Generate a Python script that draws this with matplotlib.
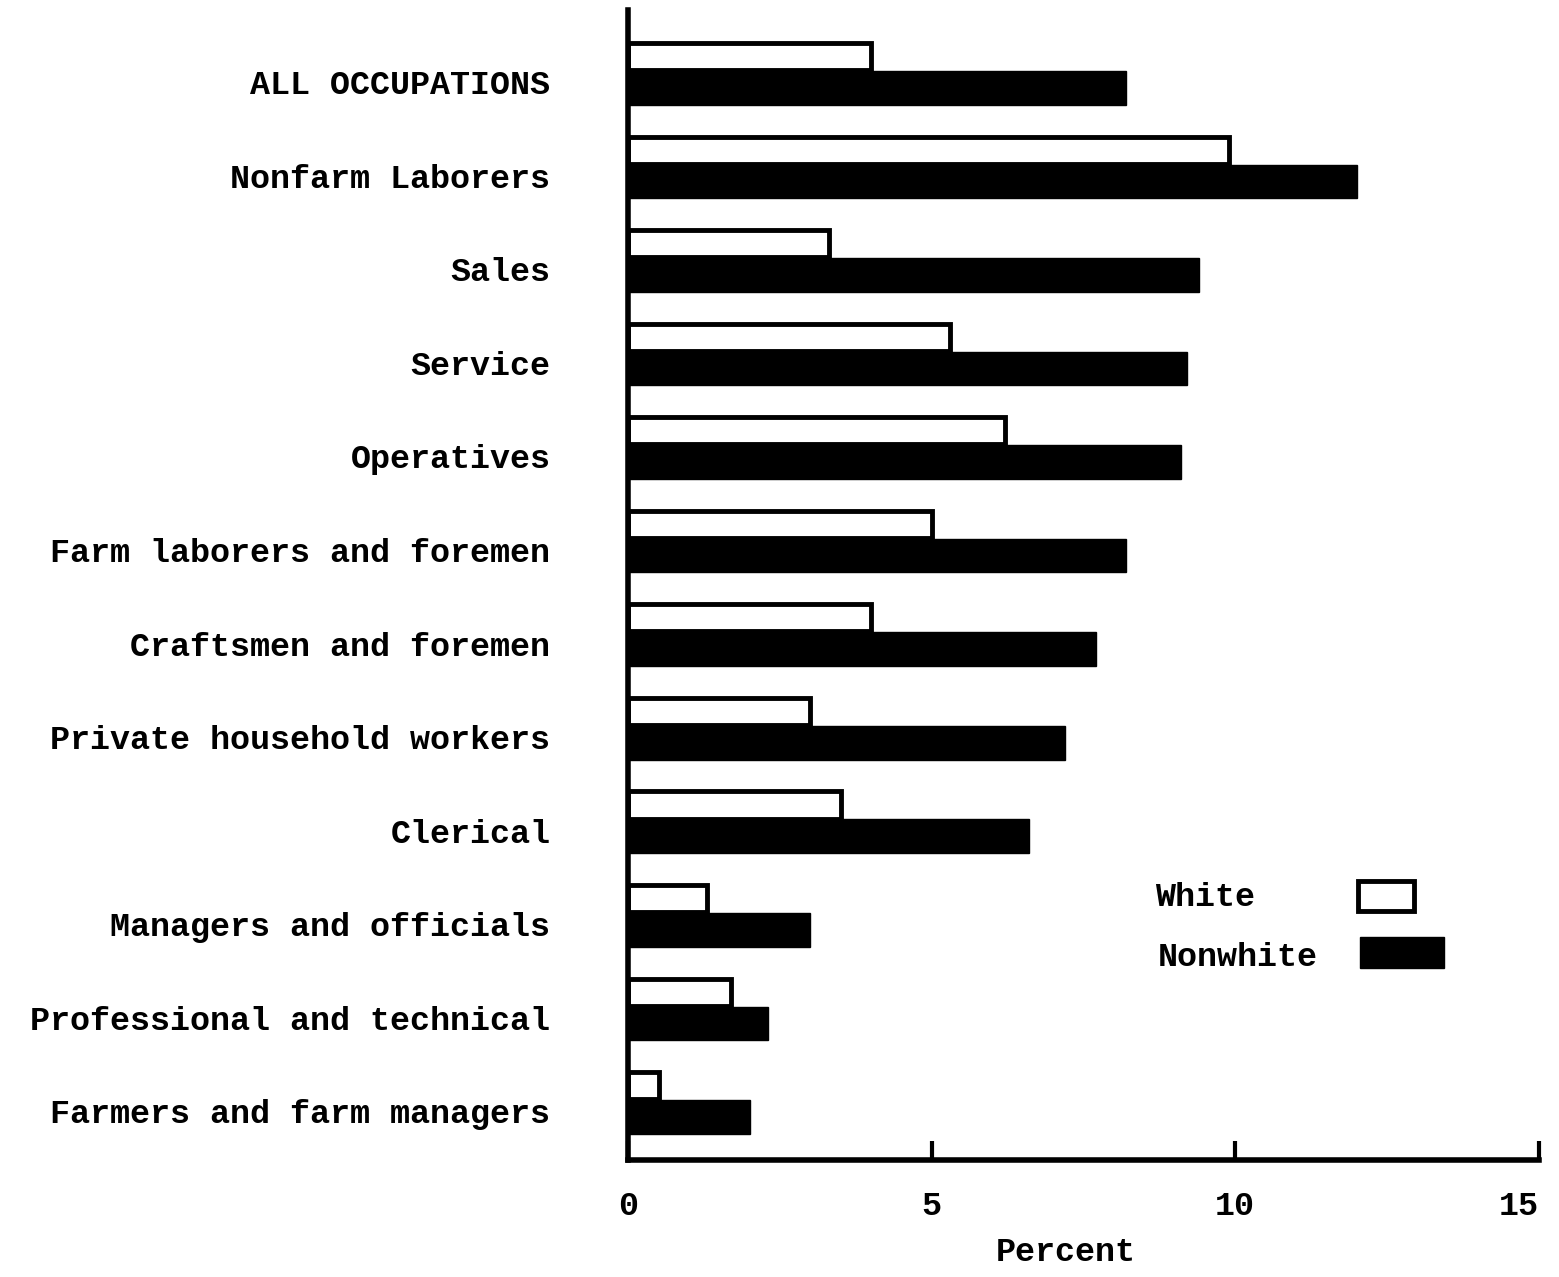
import numpy as np
import matplotlib
matplotlib.use("Agg")
import matplotlib.pyplot as plt
from matplotlib.patches import Rectangle

# unemployment rate by occupation, percent
occupations = ["ALL OCCUPATIONS", "Nonfarm Laborers", "Sales", "Service",
               "Operatives", "Farm laborers and foremen", "Craftsmen and foremen",
               "Private household workers", "Clerical", "Managers and officials",
               "Professional and technical", "Farmers and farm managers"]
white = [4.0, 9.9, 3.3, 5.3, 6.2, 5.0, 4.0, 3.0, 3.5, 1.3, 1.7, 0.5]
nonwhite = [8.2, 12.0, 9.4, 9.2, 9.1, 8.2, 7.7, 7.2, 6.6, 3.0, 2.3, 2.0]
xticks = [0, 5, 10, 15]
series_names = ["White", "Nonwhite"]

plt.rcParams['font.family'] = ['Liberation Mono', 'DejaVu Sans Mono']
plt.rcParams['font.weight'] = 'bold'

fig = plt.figure(figsize=(15.59, 12.77), dpi=100)
ax = fig.add_axes([0.403, 0.0916, 0.584, 0.9004])

y = np.arange(len(occupations))
ax.barh(y - 0.155, white, height=0.29, color='white', edgecolor='black', linewidth=3.5)
ax.barh(y + 0.18, nonwhite, height=0.36, color='black', edgecolor='black', linewidth=1)

ax.set_xlim(0, 15)
ax.set_ylim(11.64, -0.65)

ax.set_yticks(y + 0.12)
ax.set_yticklabels(occupations, fontsize=24, fontweight='bold')
ax.tick_params(axis='y', length=0, pad=56)

ax.set_xticks(xticks)
labels = ax.set_xticklabels([str(t) for t in xticks], fontsize=24, fontweight='bold')
labels[-1].set_horizontalalignment('right')
ax.tick_params(axis='x', direction='in', length=14, width=3, pad=22)

ax.set_xlabel("Percent", fontsize=24, fontweight='bold')
ax.xaxis.set_label_coords(0.48, -0.067)

for side in ['top', 'right']:
    ax.spines[side].set_visible(False)
for side in ['left', 'bottom']:
    ax.spines[side].set_linewidth(4)

# legend drawn by hand: text left, key box right
ax.text(0.579, 0.228, series_names[0], transform=ax.transAxes, fontsize=24,
        fontweight='bold', va='center', ha='left')
ax.text(0.581, 0.176, series_names[1], transform=ax.transAxes, fontsize=24,
        fontweight='bold', va='center', ha='left')
ax.add_patch(Rectangle((0.802, 0.217), 0.0615, 0.026, transform=ax.transAxes,
                       facecolor='white', edgecolor='black', linewidth=3.5))
ax.add_patch(Rectangle((0.804, 0.167), 0.092, 0.027, transform=ax.transAxes,
                       facecolor='black', edgecolor='black'))

fig.savefig("out.png", dpi=100)
